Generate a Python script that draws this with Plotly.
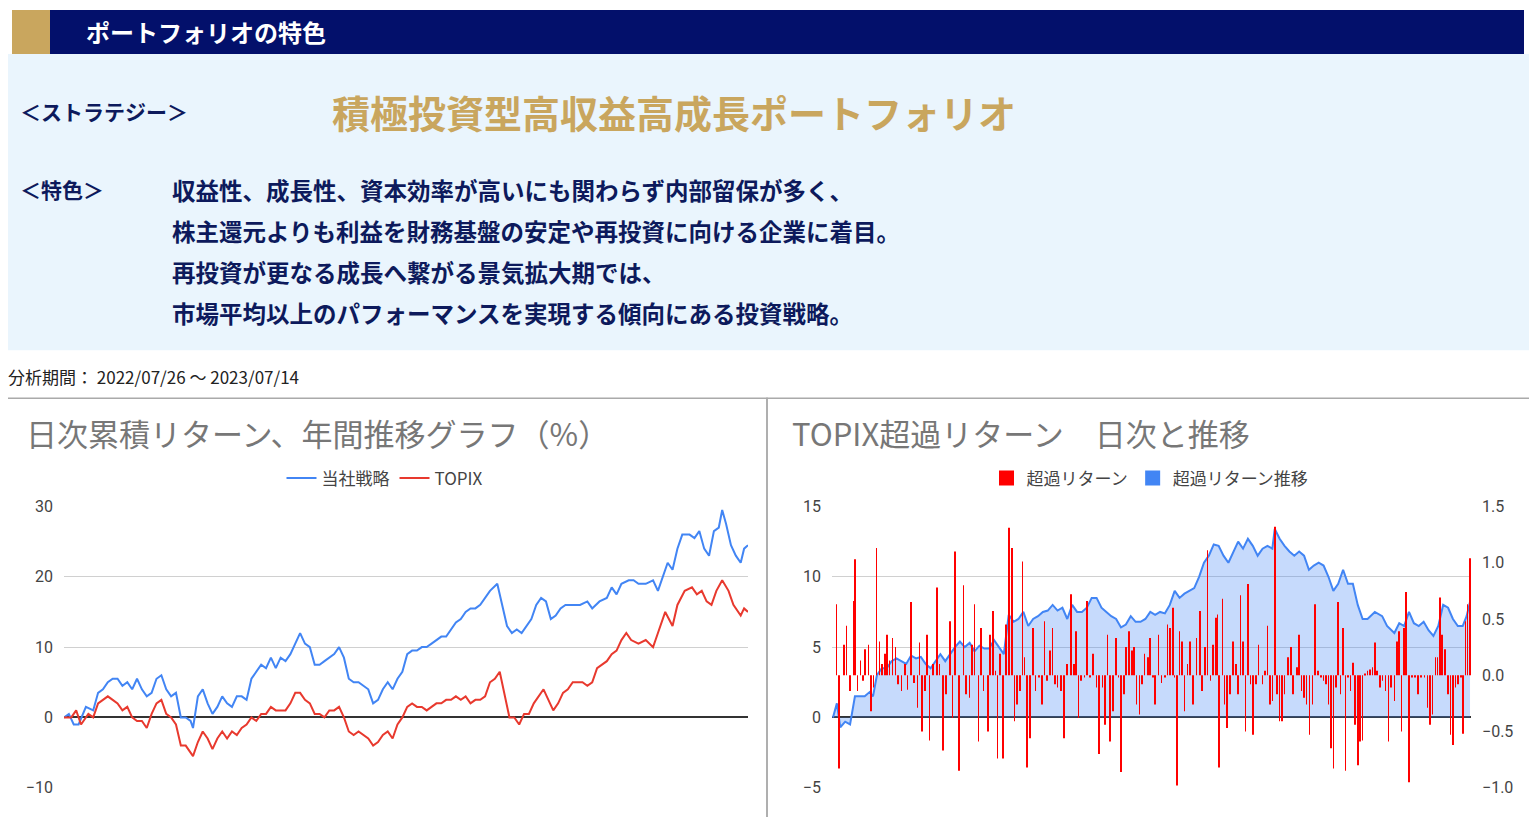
import plotly.graph_objects as go

W, H = 1537, 825
PAD = 8  # page margin around the plot div

# --- 日次累積リターン (%) : trading-day position, value ---
blue_t = [135,145,155,165,180,195,205,215,225,235,245,255,265,275,285,295,305,315,325,335,345,355,365,375,385,395,400,410,420,430,440,450,460,470,480,490,500,510,520,530,540,550,560,570,580,590,600,610,620,630,640,650,660,670,680,690,700,710,720,730,740,750,760,770,780,790,800,810,820,830,840,850,860,870,880,890,900,910,920,930,940,950,960,970,980,990,1000,1010,1025,1035,1045,1055,1065,1075,1085,1095,1105,1115,1125,1135,1145,1155,1165,1180,1195,1210,1220,1235,1250,1260,1270,1280,1295,1305,1315,1330,1345,1355,1365,1375,1385,1395,1405,1420,1430,1440,1450,1460,1470,1480,1487,1495,1505,1515,1525,1532,1540]
blue_v = [0,0.5,-1,-1,1.5,1,3.5,4,5,5.5,5.5,4.5,5,4,5.5,4,3,3.5,5.5,6,4,3,3.5,0,0,-0.5,-1.5,3,4,2,0.5,1.5,3,2,1.5,3,3,2.5,5.5,6.5,7.5,7,8.5,7,8.5,8,9,10.5,12,10.5,10,7.5,7.5,8,8.5,9,10,8.5,5.5,5,5,4.5,4,2,2.5,4,5,4,5.5,6.5,9,9.5,9.5,10,10,10.5,11,11.5,11.5,12.5,13.5,14,15,15.5,15.5,16,17,18,19,16,13,12,12.5,12,13,14,16,17,16.5,14,14.5,15.5,16,16,16,16.5,15.5,16.5,17,18.5,17.5,19,19.5,19.5,19,19,19.5,18,20,22,21,24,26,26,25.5,26.5,24,23,26.5,27,29.5,27.5,24.5,23,22,24,24.5]
red_t = [135,150,160,170,185,195,205,215,225,235,245,255,265,275,285,295,305,315,325,335,345,355,365,375,385,395,400,410,420,430,440,450,460,470,480,490,500,510,520,530,540,550,560,570,580,590,600,610,620,630,640,650,660,670,680,690,700,710,720,730,740,750,760,770,780,790,800,810,820,830,840,850,860,870,880,890,900,910,920,930,940,950,960,970,980,990,1000,1010,1020,1030,1040,1050,1060,1070,1080,1090,1100,1110,1120,1130,1140,1150,1160,1170,1180,1190,1200,1210,1220,1230,1240,1250,1260,1270,1280,1290,1300,1315,1330,1345,1355,1370,1385,1395,1410,1425,1435,1445,1455,1465,1475,1487,1500,1510,1525,1532,1540]
red_v = [0,0,1,-1,0.5,0,2,2.5,3,2.5,2,1,1.5,0,-0.5,-0.5,-1.5,0.5,2,2.5,0.5,0,-1,-4,-4,-5,-5.5,-3.5,-2,-3,-4.5,-3,-2,-3,-2,-2.5,-1.5,-1,0,-0.5,0.5,0.5,1.5,1,1,1,2,3.5,3.5,2.5,2,0.5,0.5,0,1,1,1.5,0,-2,-2.5,-2,-2.5,-3,-4,-3.5,-2.5,-2,-3,-1,0,1.5,2,1.5,1.5,1,1.5,2,2,2.5,2.5,3,2.5,3,2,2.5,2.5,3,5,5.5,6.5,3,0,0,-1,0.5,0.5,2,3,4,2.5,1,2,3.5,4,5,5,5,4.5,5,7,7.5,8,9,9.5,11,12,11,10.5,11,10,12,15,13,16,18,18.5,17.5,18,16.5,16,18,19.5,18,16,14.5,15.5,15]

# --- TOPIX超過リターン推移 (left axis, %) ---
cum_t = [130,138,145,155,165,175,185,195,205,212,220,230,240,250,260,270,280,290,300,310,320,330,340,350,360,370,380,390,400,410,420,430,440,450,460,470,480,490,500,510,520,530,540,550,560,570,580,590,600,610,620,630,640,650,660,670,680,690,700,710,720,730,740,750,760,770,780,790,800,810,820,830,840,850,860,870,880,890,900,910,920,930,940,950,960,970,980,990,1000,1010,1020,1030,1035,1045,1055,1065,1075,1085,1095,1105,1115,1125,1135,1145,1155,1165,1175,1185,1195,1205,1215,1225,1240,1255,1265,1280,1290,1300,1310,1320,1330,1340,1350,1360,1370,1380,1390,1400,1410,1420,1428,1435]
cum_v = [0,1,-0.7,-0.3,-0.5,1.5,1.5,1.5,1.8,1.5,3,3.5,3.5,4,4.2,4,3.8,4.4,4.2,4.3,3.8,3.5,4,4.5,4,4.5,5,5.4,5,5.3,4.7,5.1,4.9,4.9,5.5,5,4.5,7.3,6.8,7,7.5,6.5,7,7.2,7.5,7.6,8,7.6,7.8,7,8,7.5,7.5,7.8,8.5,8.5,7.8,7.5,7.2,7,6.4,6.6,7.2,6.8,6.8,7,7.5,7.3,7.5,7.4,8,9,8.5,8.8,9,9.2,10,11,11.5,12.3,12.2,11.5,11,11.8,12.5,12,12.7,12.2,11.5,12,12.2,12,13.4,12.7,12.2,11.8,11.5,11.8,11.5,10.5,10.8,11,10.8,10,9,9.5,10.5,9.5,9.5,8,7,7,7.5,7.2,6.5,6,6.7,6.5,7.5,6.7,6.5,6.8,6.2,5.8,6.5,8,7.8,7,6.5,6.5,7.2,8.2]

# --- 超過リターン 日次 (right axis, %) ---
bar_t = [137,142,152,158,165,172,175,180,186,192,196,203,208,213,219,225,230,236,241,246,252,258,263,270,278,283,290,296,303,307,312,318,322,328,335,343,348,355,362,370,375,380,388,397,403,410,415,420,428,433,438,447,452,458,463,467,472,478,485,490,497,502,507,513,518,522,527,534,540,545,552,558,563,568,574,580,585,590,597,603,610,618,624,628,633,638,645,650,657,663,670,675,682,687,692,697,703,710,715,720,726,730,736,742,747,752,758,763,768,775,780,785,790,797,803,810,815,820,826,830,835,840,845,850,856,862,868,875,882,886,892,897,903,908,914,918,921,928,932,937,943,950,955,960,965,970,975,980,985,990,996,1002,1010,1015,1020,1025,1030,1035,1040,1045,1050,1055,1062,1068,1073,1080,1085,1090,1095,1100,1106,1112,1118,1124,1130,1135,1140,1145,1150,1155,1160,1165,1170,1175,1180,1185,1190,1195,1200,1205,1210,1215,1220,1225,1230,1235,1240,1245,1250,1256,1262,1268,1273,1280,1285,1290,1295,1300,1304,1310,1316,1322,1328,1335,1342,1348,1353,1358,1364,1368,1373,1378,1384,1390,1395,1400,1405,1410,1416,1421,1426,1430,1435]
bar_v = [0.63,-0.83,0.27,0.44,-0.14,0.66,1.03,-0.14,0.13,-0.05,0.23,0.27,-0.32,-0.11,1.13,0.30,0.10,0.19,0.36,0.13,0.33,0.25,-0.08,-0.14,0.10,-0.13,0.65,-0.07,-0.29,0.29,-0.50,-0.14,0.36,-0.58,0.10,0.78,0.10,-0.67,-0.17,0.48,-0.38,1.10,-0.85,0.80,-0.17,-0.20,0.27,0.63,-0.59,0.42,-0.14,-0.50,0.36,0.57,0.04,-0.74,0.19,-0.74,0.45,1.31,1.13,-0.41,-0.26,-0.14,1.01,0.16,-0.82,-0.56,0.42,-0.14,-0.02,-0.26,0.48,-0.05,0.22,0.42,-0.08,-0.11,-0.14,-0.56,0.10,0.72,0.10,0.39,-0.38,-0.05,-0.02,0.66,-0.02,0.19,-0.11,-0.70,-0.11,-0.44,0.36,-0.59,-0.32,0.33,-0.02,-0.86,-0.17,0.25,0.39,0.22,0.25,-0.26,-0.35,-0.08,0.19,0.16,0.33,-0.02,-0.26,0.36,-0.07,-0.02,0.45,0.42,0.60,-0.02,-0.98,0.39,0.30,-0.32,0.10,0.30,-0.26,0.33,0.57,-0.14,0.25,1.11,-0.05,0.27,0.51,0.54,-0.82,0.68,-0.26,-0.47,-0.17,0.30,0.10,-0.17,0.71,0.30,-0.50,0.81,-0.08,-0.53,-0.08,0.27,-0.08,0.04,0.44,-0.26,-0.23,1.32,-0.17,-0.41,-0.41,-0.17,0.16,0.25,-0.17,0.07,0.36,-0.14,-0.20,-0.26,-0.53,-0.26,0.63,0.04,-0.02,-0.05,-0.08,-0.26,-0.65,-0.83,-0.11,0.65,-0.17,0.42,-0.85,-0.02,-0.14,0.11,-0.44,-0.80,-0.59,-0.58,0.01,0.04,0.05,0.07,0.29,0.04,-0.11,-0.05,-0.14,-0.59,-0.11,-0.23,0.30,0.39,-0.50,0.42,0.74,-0.95,-0.02,-0.02,-0.17,-0.02,-0.02,-0.29,-0.44,-0.35,0.16,0.16,0.69,0.36,0.23,-0.17,-0.53,-0.62,-0.11,-0.08,-0.02,-0.52,0.48,0.63,1.04]

features = [
    "収益性、成長性、資本効率が高いにも関わらず内部留保が多く、",
    "株主還元よりも利益を財務基盤の安定や再投資に向ける企業に着目。",
    "再投資が更なる成長へ繋がる景気拡大期では、",
    "市場平均以上のパフォーマンスを実現する傾向にある投資戦略。",
]

BLUE = "#4285f4"
RED = "#e8392e"
NAVY = "#0d1a5c"
FONT = "Noto Sans CJK JP"

FW, FH = W - 2 * PAD, H - 2 * PAD


def px(x):
    return (x - PAD) / FW


def py(y):
    # the photographed page comes out slightly offset/compressed vertically
    y = (y - 9.24) / 0.9755
    return 1 - (y - PAD) / FH


fig = go.Figure()

fig.add_trace(go.Scatter(x=blue_t, y=blue_v, mode="lines", name="当社戦略",
                         line=dict(color=BLUE, width=2), legend="legend"))
fig.add_trace(go.Scatter(x=red_t, y=red_v, mode="lines", name="TOPIX",
                         line=dict(color=RED, width=2), legend="legend"))

fig.add_trace(go.Scatter(x=cum_t, y=cum_v, mode="lines", fill="tozeroy",
                         fillcolor="rgba(66,133,244,0.3)", line=dict(color=BLUE, width=2),
                         xaxis="x2", yaxis="y2", showlegend=False))
fig.add_trace(go.Bar(x=bar_t, y=bar_v, width=1.3, marker=dict(color="#ff0000", line_width=0),
                     xaxis="x2", yaxis="y3", showlegend=False))
# legend entries for right chart
fig.add_trace(go.Scatter(x=[None], y=[None], mode="markers", name="超過リターン",
                         marker=dict(symbol="square", size=15, color="#ff0000"),
                         xaxis="x2", yaxis="y2", legend="legend2"))
fig.add_trace(go.Scatter(x=[None], y=[None], mode="markers", name="超過リターン推移",
                         marker=dict(symbol="square", size=15, color=BLUE),
                         xaxis="x2", yaxis="y2", legend="legend2"))

grid = "#d0d0d0"
tickf = dict(family="Roboto", size=16, color="#444")
fig.update_layout(
    width=FW, height=FH, margin=dict(l=0, r=0, t=0, b=0),
    paper_bgcolor="white", plot_bgcolor="white",
    font=dict(family=FONT),
    barmode="overlay",
    xaxis=dict(domain=[px(64), px(748)], range=[135, 1540], visible=False),
    yaxis=dict(domain=[py(787), py(506)], range=[-10, 30], tickvals=[-10, 0, 10, 20, 30],
               gridcolor=grid, tickfont=tickf, zeroline=True, zerolinecolor="#333",
               zerolinewidth=2, ticks="", ticklabelstandoff=10),
    xaxis2=dict(domain=[px(832), px(1471)], range=[128, 1437], visible=False),
    yaxis2=dict(domain=[py(787), py(506)], range=[-5, 15], tickvals=[-5, 0, 5, 10, 15],
                gridcolor=grid, tickfont=tickf, zeroline=True, zerolinecolor="#333",
                zerolinewidth=2, anchor="x2", ticklabelstandoff=10),
    yaxis3=dict(range=[-1.0, 1.5], tickvals=[-1.0, -0.5, 0, 0.5, 1.0, 1.5],
                tickformat=".1f", overlaying="y2", side="right", anchor="x2",
                showgrid=False, zeroline=False, tickfont=tickf, ticklabelstandoff=10),
    legend=dict(orientation="h", x=px(385), y=py(460), xanchor="center", yanchor="top",
                font=dict(size=17, color="#444"), bgcolor="rgba(0,0,0,0)"),
    legend2=dict(orientation="h", x=px(1150), y=py(460), xanchor="center", yanchor="top",
                 font=dict(size=17, color="#444"), bgcolor="rgba(0,0,0,0)"),
)

shapes = [
    dict(type="rect", xref="paper", yref="paper", x0=px(5), x1=px(1532), y0=py(350), y1=py(54),
         fillcolor="#eaf5fd", line_width=0, layer="below"),
    dict(type="rect", xref="paper", yref="paper", x0=px(12), x1=px(1524), y0=py(54), y1=py(10),
         fillcolor="#03106b", line_width=0),
    dict(type="rect", xref="paper", yref="paper", x0=px(12), x1=px(50), y0=py(54), y1=py(10),
         fillcolor="#c9a65e", line_width=0),
    dict(type="rect", xref="paper", yref="paper", x0=px(3), x1=px(767), y0=py(817), y1=py(398),
         fillcolor="rgba(0,0,0,0)", line=dict(color="#aaa", width=1.5), layer="below"),
    dict(type="rect", xref="paper", yref="paper", x0=px(767), x1=px(1532), y0=py(817), y1=py(398),
         fillcolor="rgba(0,0,0,0)", line=dict(color="#aaa", width=1.5), layer="below"),
]


def txt(x, y, s, size, color, bold=False, anchor="left", family=FONT):
    return dict(xref="paper", yref="paper", x=px(x), y=py(y), xanchor=anchor, yanchor="middle",
                text=f"<b>{s}</b>" if bold else s, showarrow=False,
                font=dict(size=size, color=color, family=family))


ann = [
    txt(84, 32, "ポートフォリオの特色", 24, "white", True),
    txt(18, 111, "＜ストラテジー＞", 21, NAVY, True),
    txt(330, 111, "積極投資型高収益高成長ポートフォリオ", 38, "#c9a65e", True),
    txt(18, 189, "＜特色＞", 21, NAVY, True),
    txt(6, 376, "分析期間： 2022/07/26 〜 2023/07/14", 17, "#222"),
    txt(24, 432, "日次累積リターン、年間推移グラフ（%）", 31, "#777"),
    txt(790, 432, "TOPIX超過リターン　日次と推移", 31, "#777"),
]
for i, line in enumerate(features):
    ann.append(txt(170, 190 + i * 41, line, 23.5, NAVY, True))

fig.update_layout(shapes=shapes, annotations=ann)

fig.write_html("out.html")
